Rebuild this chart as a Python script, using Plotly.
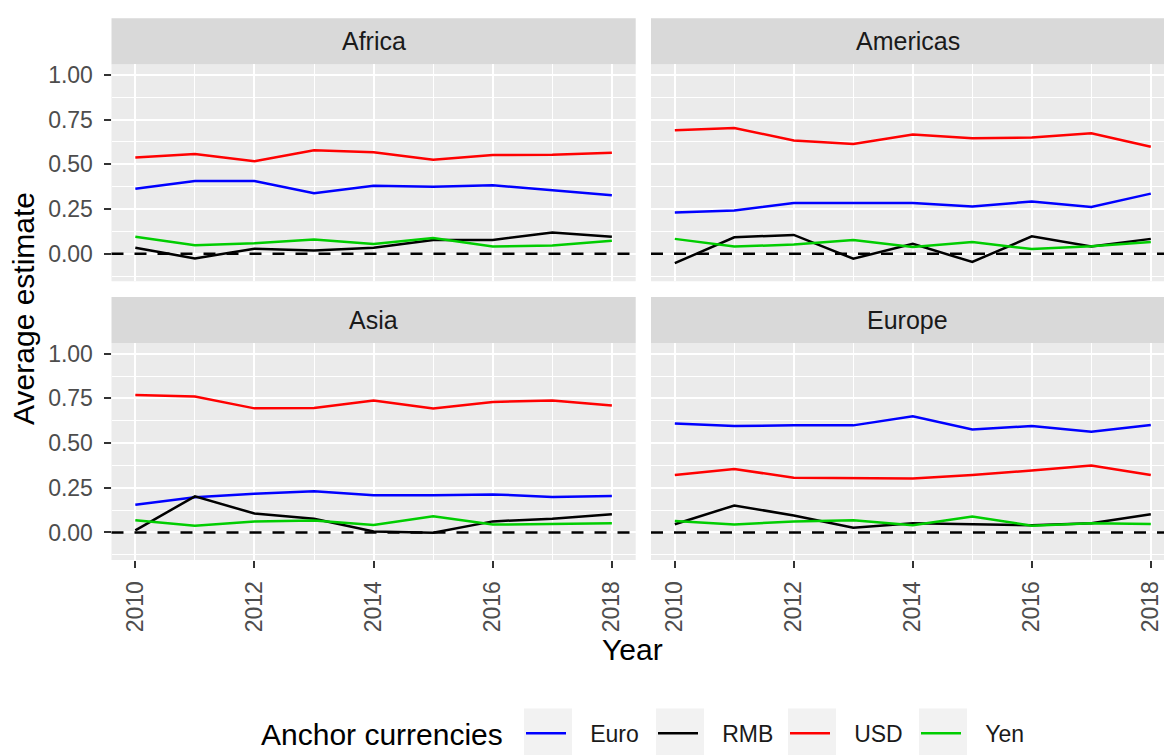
import plotly.graph_objects as go

YEARS = [2010, 2011, 2012, 2013, 2014, 2015, 2016, 2017, 2018]
REGIONS = ["Africa", "Americas", "Asia", "Europe"]
CURRENCIES = ["Euro", "RMB", "USD", "Yen"]
COLORS = {"Euro": "#0000FF", "RMB": "#000000", "USD": "#FF0000", "Yen": "#00CD00"}

AFRICA_EURO = [0.363, 0.407, 0.406, 0.338, 0.380, 0.374, 0.383, 0.354, 0.327]
AFRICA_RMB = [0.033, -0.026, 0.028, 0.018, 0.033, 0.077, 0.077, 0.119, 0.095]
AFRICA_USD = [0.538, 0.558, 0.517, 0.578, 0.567, 0.525, 0.552, 0.554, 0.565]
AFRICA_YEN = [0.095, 0.048, 0.059, 0.079, 0.055, 0.088, 0.040, 0.046, 0.072]

AMERICAS_EURO = [0.231, 0.242, 0.284, 0.284, 0.284, 0.264, 0.292, 0.261, 0.336]
AMERICAS_RMB = [-0.053, 0.092, 0.105, -0.028, 0.055, -0.046, 0.097, 0.040, 0.083]
AMERICAS_USD = [0.690, 0.703, 0.633, 0.613, 0.666, 0.646, 0.650, 0.673, 0.598]
AMERICAS_YEN = [0.083, 0.040, 0.051, 0.077, 0.037, 0.066, 0.026, 0.042, 0.066]

ASIA_EURO = [0.155, 0.197, 0.217, 0.231, 0.208, 0.208, 0.213, 0.199, 0.204]
ASIA_RMB = [0.012, 0.202, 0.106, 0.077, 0.005, -0.002, 0.062, 0.077, 0.102]
ASIA_USD = [0.769, 0.760, 0.694, 0.696, 0.738, 0.694, 0.730, 0.738, 0.710]
ASIA_YEN = [0.069, 0.038, 0.062, 0.067, 0.042, 0.091, 0.044, 0.047, 0.051]

EUROPE_EURO = [0.610, 0.595, 0.599, 0.599, 0.650, 0.576, 0.595, 0.563, 0.601]
EUROPE_RMB = [0.046, 0.151, 0.095, 0.027, 0.051, 0.044, 0.040, 0.051, 0.102]
EUROPE_USD = [0.322, 0.355, 0.306, 0.306, 0.302, 0.322, 0.346, 0.375, 0.322]
EUROPE_YEN = [0.064, 0.044, 0.062, 0.069, 0.040, 0.089, 0.038, 0.051, 0.047]

DATA = {
    "Africa": {"Euro": AFRICA_EURO, "RMB": AFRICA_RMB, "USD": AFRICA_USD, "Yen": AFRICA_YEN},
    "Americas": {"Euro": AMERICAS_EURO, "RMB": AMERICAS_RMB, "USD": AMERICAS_USD, "Yen": AMERICAS_YEN},
    "Asia": {"Euro": ASIA_EURO, "RMB": ASIA_RMB, "USD": ASIA_USD, "Yen": ASIA_YEN},
    "Europe": {"Euro": EUROPE_EURO, "RMB": EUROPE_RMB, "USD": EUROPE_USD, "Yen": EUROPE_YEN},
}

X_TICKS = [2010, 2012, 2014, 2016, 2018]
Y_TICKS = [0.0, 0.25, 0.5, 0.75, 1.0]
Y_TICKTEXT = ["0.00", "0.25", "0.50", "0.75", "1.00"]

W, H = 1164, 755
FONT = "Liberation Sans, Arial, sans-serif"

def px_x(p):
    return p / W

def px_y(p):
    return 1 - p / H

LEFT_DOM = [px_x(111.5), px_x(635.7)]
RIGHT_DOM = [px_x(651), 1.0]
TOP_DOM = [px_y(283), px_y(63)]
BOT_DOM = [px_y(565.5), px_y(345.5)]
YRANGE = [-0.154, 1.06]
LEFT_XRANGE = [2009.6, 2018.4]
RIGHT_XRANGE = [2009.6, 2009.6 + 513 / 59.5]

panels = {
    "Africa": dict(ax=1, xdom=LEFT_DOM, ydom=TOP_DOM, xr=LEFT_XRANGE, showx=False, showy=True),
    "Americas": dict(ax=2, xdom=RIGHT_DOM, ydom=TOP_DOM, xr=RIGHT_XRANGE, showx=False, showy=False),
    "Asia": dict(ax=3, xdom=LEFT_DOM, ydom=BOT_DOM, xr=LEFT_XRANGE, showx=True, showy=True),
    "Europe": dict(ax=4, xdom=RIGHT_DOM, ydom=BOT_DOM, xr=RIGHT_XRANGE, showx=True, showy=False),
}

fig = go.Figure()
legend_names = {"Euro": "legend", "RMB": "legend2", "USD": "legend3", "Yen": "legend4"}
NBSP = "\u00a0"

for region in REGIONS:
    p = panels[region]
    sfx = "" if p["ax"] == 1 else str(p["ax"])
    for cur in CURRENCIES:
        fig.add_trace(go.Scatter(
            x=YEARS, y=DATA[region][cur], mode="lines", name=NBSP * 3 + cur,
            line=dict(color=COLORS[cur], width=2.5),
            xaxis="x" + sfx, yaxis="y" + sfx,
            legend=legend_names[cur],
            showlegend=(region == "Africa"),
        ))

layout = dict(
    width=W, height=H, autosize=False,
    margin=dict(l=0, r=0, t=0, b=0),
    paper_bgcolor="white", plot_bgcolor="#EBEBEB",
    font=dict(family=FONT, color="#1A1A1A"),
    shapes=[], annotations=[],
)

for region in REGIONS:
    p = panels[region]
    sfx = "" if p["ax"] == 1 else str(p["ax"])
    xa = dict(
        domain=p["xdom"], range=p["xr"], anchor="y" + sfx,
        tickvals=X_TICKS, ticktext=[str(v) for v in X_TICKS],
        showgrid=True, gridcolor="white", gridwidth=2,
        minor=dict(dtick=1, tick0=2010, showgrid=True, gridcolor="white", gridwidth=1, ticks=""),
        zeroline=False, showline=False,
        ticks="outside" if p["showx"] else "", ticklen=7, tickwidth=2, tickcolor="#333333",
        showticklabels=p["showx"], tickangle=-90,
        tickfont=dict(size=23, color="#4D4D4D", family=FONT),
        ticklabelstandoff=4,
        fixedrange=True,
    )
    ya = dict(
        domain=p["ydom"], range=YRANGE, anchor="x" + sfx,
        tickvals=Y_TICKS, ticktext=Y_TICKTEXT,
        showgrid=True, gridcolor="white", gridwidth=2,
        minor=dict(dtick=0.125, tick0=0, showgrid=True, gridcolor="white", gridwidth=1, ticks=""),
        zeroline=False, showline=False,
        ticks="outside" if p["showy"] else "", ticklen=7, tickwidth=2, tickcolor="#333333",
        showticklabels=p["showy"],
        tickfont=dict(size=23, color="#4D4D4D", family=FONT),
        ticklabelstandoff=6,
        fixedrange=True,
    )
    layout["xaxis" + sfx] = xa
    layout["yaxis" + sfx] = ya

    # zero reference line
    layout["shapes"].append(dict(
        type="line", xref="x" + sfx + " domain", yref="y" + sfx,
        x0=0, x1=1, y0=0, y1=0,
        line=dict(color="black", width=2.5, dash="12px,11px"), layer="above",
    ))
    # strip
    top = p["ydom"][1]
    strip_h = (46.5) / H
    layout["shapes"].append(dict(
        type="rect", xref="x" + sfx + " domain", yref="paper",
        x0=0, x1=1, y0=top, y1=top + strip_h,
        fillcolor="#D9D9D9", line=dict(width=0), layer="below",
    ))
    layout["annotations"].append(dict(
        text=region, xref="x" + sfx + " domain", yref="paper",
        x=0.5, y=top + strip_h / 2, showarrow=False,
        xanchor="center", yanchor="middle",
        font=dict(size=25, color="#1A1A1A", family=FONT),
    ))

# axis titles
layout["annotations"].append(dict(
    text="Average estimate", xref="paper", yref="paper",
    x=px_x(24), y=px_y(311), textangle=-90, showarrow=False,
    xanchor="center", yanchor="middle", font=dict(size=30, color="black", family=FONT),
))
layout["annotations"].append(dict(
    text="Year", xref="paper", yref="paper",
    x=px_x(632), y=px_y(656), showarrow=False,
    xanchor="center", yanchor="middle", font=dict(size=30, color="black", family=FONT),
))
layout["annotations"].append(dict(
    text="Anchor currencies", xref="paper", yref="paper",
    x=px_x(259), y=px_y(742), showarrow=False,
    xanchor="left", yanchor="middle", font=dict(size=30, color="black", family=FONT),
))

KEY_X = {"Euro": 524, "RMB": 656, "USD": 788, "Yen": 919}
for cur in CURRENCIES:
    layout["shapes"].append(dict(
        type="rect", xref="paper", yref="paper",
        x0=px_x(KEY_X[cur]), x1=px_x(KEY_X[cur] + 48),
        y0=px_y(764), y1=px_y(716),
        fillcolor="#F2F2F2", line=dict(width=0), layer="above",
    ))
    layout[legend_names[cur]] = dict(
        x=px_x(KEY_X[cur] - 3), y=px_y(741), xanchor="left", yanchor="middle",
        orientation="h", bgcolor="rgba(0,0,0,0)", borderwidth=0,
        font=dict(size=23, color="#1A1A1A", family=FONT),
        itemwidth=40,
    )

fig.update_layout(**layout)
fig.write_html("out.html", post_script="document.body.style.margin='0px';",
               config={"displayModeBar": False})
